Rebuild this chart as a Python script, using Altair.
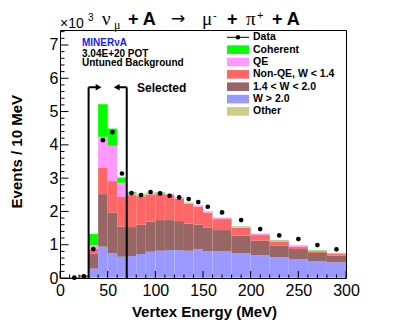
import altair as alt
import pandas as pd

# ---------------- data (values in thousands of events / 10 MeV) ----------------
edges = [0, 10, 20, 30, 40, 50, 60, 70, 80, 90, 100, 110, 120, 130, 140, 150,
         160, 180, 200, 220, 240, 260, 280, 300]
other    = [0, 0, 0, 0.03, 0.03, 0.03, 0.03, 0.03, 0.03, 0.03, 0.03, 0.03, 0.03, 0.03,
            0.03, 0.03, 0.03, 0.03, 0.03, 0.03, 0.03, 0.03, 0.03]
w_gt20   = [0, 0, 0.01, 0.25, 0.91, 0.71, 0.61, 0.63, 0.69, 0.76, 0.79, 0.81, 0.81, 0.79,
            0.83, 0.78, 0.77, 0.71, 0.65, 0.60, 0.54, 0.48, 0.44]
w_14_20  = [0, 0, 0.02, 0.46, 1.58, 1.23, 0.91, 0.87, 0.88, 0.90, 0.92, 0.90, 0.87, 0.82,
            0.75, 0.71, 0.64, 0.53, 0.44, 0.35, 0.30, 0.24, 0.20]
nonqe    = [0, 0.02, 0.06, 0.14, 0.80, 0.94, 0.88, 0.96, 0.86, 0.82, 0.79, 0.75, 0.67, 0.58,
            0.53, 0.44, 0.33, 0.24, 0.17, 0.12, 0.07, 0.05, 0.05]
qe       = [0, 0, 0, 0.11, 0.92, 1.06, 0.43, 0.05, 0.03, 0.03, 0.03, 0.03, 0.03, 0.03,
            0.03, 0.03, 0.03, 0.03, 0.03, 0.03, 0.03, 0.02, 0.02]
coherent = [0, 0, 0, 0.33, 0.98, 0.52, 0.16, 0.04, 0.02, 0.02, 0.02, 0.01, 0.01, 0.01,
            0.01, 0.01, 0.01, 0.01, 0.01, 0.01, 0.01, 0.01, 0.01]
data_vals = [None, 0.01, 0.05, 0.87, 4.14, 4.38, 3.14, 2.55, 2.49, 2.58, 2.54, 2.47, 2.42,
             2.37, 2.28, 2.14, 1.97, 1.74, 1.47, 1.28, 1.17, 0.99, 0.86]

categories = ["Other", "W > 2.0", "1.4 < W < 2.0", "Non-QE, W < 1.4", "QE", "Coherent"]
series = [other, w_gt20, w_14_20, nonqe, qe, coherent]
colors = ["#cfcb88", "#9999ff", "#996666", "#ff6666", "#ff99ff", "#00ff00"]
selection_cuts = [30, 70]
x_tick_labels = [0, 50, 100, 150, 200, 250, 300]
y_tick_labels = [0, 1, 2, 3, 4, 5, 6, 7]

# ---------------- tables ----------------
rows = []
for i in range(len(edges) - 1):
    base = 0.0
    for cat, vals in zip(categories, series):
        v = vals[i]
        if v > 0:
            rows.append({"lo": edges[i], "hi": edges[i + 1], "y0": base,
                         "y1": base + v, "cat": cat})
        base += v
hist_df = pd.DataFrame(rows)

pts = []
for i, v in enumerate(data_vals):
    if v is not None:
        pts.append({"x": (edges[i] + edges[i + 1]) / 2, "y": v})
data_df = pd.DataFrame(pts)

W, H = 286, 248
FONT = "Liberation Sans"
SERIF = "Liberation Serif"
xs = alt.Scale(domain=[0, 300], nice=False, zero=False)
ys = alt.Scale(domain=[0, 7.45], nice=False, zero=False)
cs = alt.Scale(domain=categories, range=colors)
XAX = alt.Axis(values=x_tick_labels, title="", ticks=False, domain=False, grid=False,
               labelPadding=4, labelFontSize=16, labelFont=FONT, labelColor="black",
               format="d", labelFlush=False)
YAX = alt.Axis(values=y_tick_labels, title="", ticks=False, domain=False, grid=False,
               labelPadding=2, labelFontSize=16, labelFont=FONT, labelColor="black",
               format="d", labelFlush=False)


def X(f):
    return alt.X(f, scale=xs, axis=XAX)


def Y(f):
    return alt.Y(f, scale=ys, axis=YAX)


hist = alt.Chart(hist_df).mark_rect(strokeWidth=0).encode(
    x=X("lo:Q"), x2="hi:Q", y=Y("y0:Q"), y2="y1:Q",
    color=alt.Color("cat:N", scale=cs, legend=None),
)

points = alt.Chart(data_df).mark_point(filled=True, shape="circle", size=22, color="black",
                                       opacity=1).encode(x=X("x:Q"), y=Y("y:Q"))

# ticks (inside the frame, ROOT style)
xmaj = pd.DataFrame({"v": x_tick_labels})
xmin = pd.DataFrame({"v": [v for v in range(10, 300, 10) if v % 50]})
ymaj = pd.DataFrame({"v": y_tick_labels})
ymin = pd.DataFrame({"v": [round(k * 0.2, 1) for k in range(1, 38) if k % 5]})


def xticks(df, ln):
    return alt.Chart(df).mark_rule(color="black", strokeWidth=1).encode(
        x=X("v:Q"), y=alt.value(H), y2=alt.value(H - ln))


def yticks(df, ln):
    return alt.Chart(df).mark_rule(color="black", strokeWidth=1).encode(
        y=Y("v:Q"), x=alt.value(0), x2=alt.value(ln))


# selection markers
ARROW_Y = 5.73
sel_df = pd.DataFrame({"x": selection_cuts, "y0": [0, 0], "y1": [ARROW_Y, ARROW_Y]})
sel_lines = alt.Chart(sel_df).mark_rule(color="black", strokeWidth=2).encode(
    x=X("x:Q"), y=Y("y0:Q"), y2="y1:Q")
arr_df = pd.DataFrame({"x0": [selection_cuts[0], selection_cuts[1]],
                       "x1": [selection_cuts[0] + 9, selection_cuts[1] - 9],
                       "y": [ARROW_Y, ARROW_Y]})
arr_lines = alt.Chart(arr_df).mark_rule(color="black", strokeWidth=2).encode(
    x=X("x0:Q"), x2="x1:Q", y=Y("y:Q"))
head_r = alt.Chart(pd.DataFrame({"x": [selection_cuts[0] + 10.5], "y": [ARROW_Y]})).mark_point(
    shape="triangle-right", filled=True, size=45, color="black", opacity=1).encode(
    x=X("x:Q"), y=Y("y:Q"))
head_l = alt.Chart(pd.DataFrame({"x": [selection_cuts[1] - 10.5], "y": [ARROW_Y]})).mark_point(
    shape="triangle-left", filled=True, size=45, color="black", opacity=1).encode(
    x=X("x:Q"), y=Y("y:Q"))


def txt(s, x, y, size, bold=True, font=FONT, color="black", align="left", angle=0,
        baseline="alphabetic"):
    kw = dict(text=s, fontSize=size, font=font, color=color, align=align,
              baseline=baseline, fontWeight="bold" if bold else "normal")
    if angle:
        kw["angle"] = angle
    return alt.Chart(alt.Data(values=[{}])).mark_text(**kw).encode(
        x=alt.value(x), y=alt.value(y))


# plot origin is at page (60, 30)
TB = -5.5  # title baseline (relative)
texts = [
    # title: nu_mu + A -> mu- + pi+ + A
    txt("ν", 42, TB, 19, bold=False, font=SERIF),
    txt("μ", 54, TB + 4, 12, bold=False, font=SERIF),
    txt("+ A", 68, TB, 18),
    txt("→", 111, TB - 1, 17, bold=False, font="DejaVu Sans"),
    txt("μ", 142, TB, 19, bold=False, font=SERIF),
    txt("-", 153, TB - 6, 11, bold=False),
    txt("+", 167, TB, 18),
    txt("π", 186, TB, 19, bold=False, font=SERIF),
    txt("+", 197, TB - 6, 11, bold=False),
    txt("+ A", 212, TB, 18),
    # x10^3
    txt("×10", 0, -2, 14, bold=False),
    txt("3", 28, -9, 10, bold=False),
    # axis titles
    txt("Vertex Energy (MeV)", 217, 287, 15, align="right"),
    txt("Events / 10 MeV", -43, 65, 15, align="right", angle=270, baseline="middle"),
    # annotations
    txt("MINERνA", 22, 16, 10, color="#1a1aff"),
    txt("3.04E+20 POT", 22, 26.5, 10),
    txt("Untuned Background", 22, 36, 10),
    txt("Selected", 77, 61.5, 12),
]

# legend
leg_order = ["Coherent", "QE", "Non-QE, W < 1.4", "1.4 < W < 2.0", "W > 2.0", "Other"]
LEG_X0, LEG_X1, LEG_Y0, LEG_DY = 167, 189, 7.3, 12.35
leg_df = pd.DataFrame({"cat": leg_order})
leg_df["yc"] = [LEG_Y0 + LEG_DY * (k + 1) for k in range(len(leg_order))]
leg_df["yt"] = leg_df["yc"] - 4.3
leg_df["yb"] = leg_df["yc"] + 4.3
leg_boxes = alt.Chart(leg_df).mark_rect().encode(
    x=alt.value(LEG_X0), x2=alt.value(LEG_X1),
    y=alt.Y("yt:Q", scale=None), y2="yb:Q",
    color=alt.Color("cat:N", scale=cs, legend=None))
leg_text = alt.Chart(leg_df).mark_text(align="left", baseline="middle", font=FONT,
                                       fontSize=10.5, fontWeight="bold", color="black").encode(
    x=alt.value(LEG_X1 + 4), y=alt.Y("yc:Q", scale=None), text="cat:N")
leg_data_line = alt.Chart(alt.Data(values=[{}])).mark_rule(color="black", strokeWidth=1).encode(
    x=alt.value(LEG_X0), x2=alt.value(LEG_X1), y=alt.value(LEG_Y0))
leg_data_dot = alt.Chart(alt.Data(values=[{}])).mark_point(
    filled=True, shape="circle", size=20, color="black", opacity=1).encode(
    x=alt.value((LEG_X0 + LEG_X1) / 2), y=alt.value(LEG_Y0))
leg_data_txt = txt("Data", LEG_X1 + 4, LEG_Y0, 10.5, baseline="middle")

chart = alt.layer(
    hist, sel_lines, arr_lines, head_r, head_l, points,
    xticks(xmaj, 7), xticks(xmin, 3.5), yticks(ymaj, 8.5), yticks(ymin, 4.5),
    leg_boxes, leg_text, leg_data_line, leg_data_dot, leg_data_txt,
    *texts,
).properties(
    width=W, height=H,
    padding={"left": 52, "top": 22, "right": 53, "bottom": 42},
    autosize=alt.AutoSizeParams(type="none"),
    background="white",
).configure_view(stroke="black", strokeWidth=1)

chart.save("out.html", embed_options={"renderer": "svg", "actions": False})
